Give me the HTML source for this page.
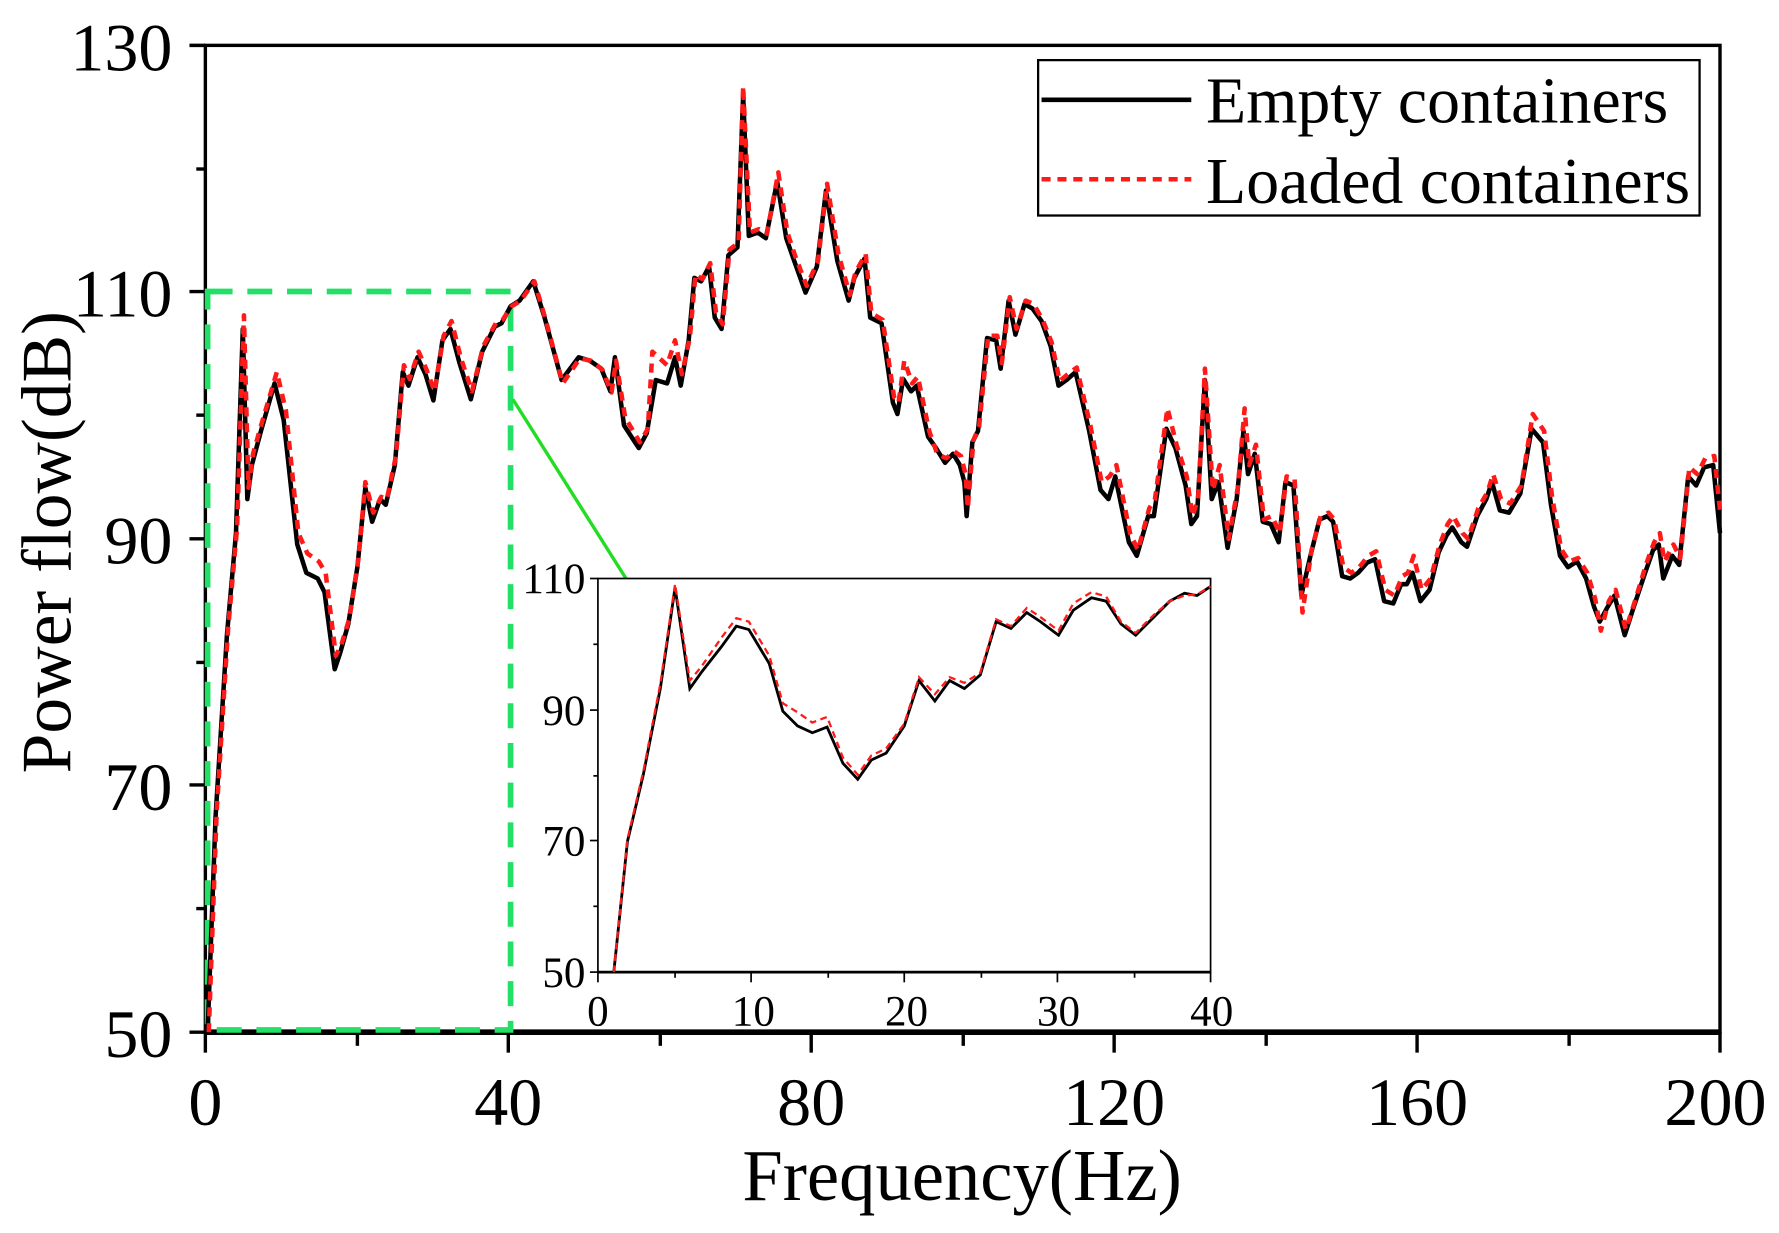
<!DOCTYPE html>
<html><head><meta charset="utf-8"><style>
html,body{margin:0;padding:0;background:#fff;}
svg{display:block;}
text{font-family:"Liberation Serif",serif;fill:#000;}
</style></head><body>
<svg width="1779" height="1233" viewBox="0 0 1568 1087" preserveAspectRatio="none" xmlns="http://www.w3.org/2000/svg">
<rect width="1568" height="1087" fill="#fff"/>
<rect x="181" y="40" width="1335" height="870" fill="none" stroke="#000" stroke-width="3"/>
<line x1="181" y1="910" x2="1516" y2="910" stroke="#000" stroke-width="5"/>
<g stroke="#000" stroke-width="3">
<line x1="167" y1="40" x2="181" y2="40"/><line x1="173" y1="149" x2="181" y2="149"/>
<line x1="167" y1="257" x2="181" y2="257"/><line x1="173" y1="366" x2="181" y2="366"/>
<line x1="167" y1="475" x2="181" y2="475"/><line x1="173" y1="584" x2="181" y2="584"/>
<line x1="167" y1="692" x2="181" y2="692"/><line x1="173" y1="801" x2="181" y2="801"/>
<line x1="167" y1="910" x2="181" y2="910"/>
<line x1="181" y1="910" x2="181" y2="928"/><line x1="315" y1="910" x2="315" y2="922"/>
<line x1="448" y1="910" x2="448" y2="928"/><line x1="582" y1="910" x2="582" y2="922"/>
<line x1="715" y1="910" x2="715" y2="928"/><line x1="849" y1="910" x2="849" y2="922"/>
<line x1="982" y1="910" x2="982" y2="928"/><line x1="1116" y1="910" x2="1116" y2="922"/>
<line x1="1249" y1="910" x2="1249" y2="928"/><line x1="1383" y1="910" x2="1383" y2="922"/>
<line x1="1516" y1="910" x2="1516" y2="928"/>
</g>
<g font-size="60" text-anchor="end">
<text x="152" y="62">130</text><text x="152" y="279">110</text><text x="152" y="497">90</text>
<text x="152" y="714">70</text><text x="152" y="932">50</text>
</g>
<g font-size="60" text-anchor="middle">
<text x="181" y="992">0</text><text x="448" y="992">40</text><text x="715" y="992">80</text>
<text x="982" y="992">120</text><text x="1249" y="992">160</text><text x="1512" y="992">200</text>
</g>
<text x="848" y="1058" font-size="64" text-anchor="middle">Frequency(Hz)</text>
<text transform="translate(62,478) rotate(-90)" font-size="63" text-anchor="middle">Power flow(dB)</text>

<rect x="183" y="257" width="267" height="651" fill="none" stroke="#22e066" stroke-width="5" stroke-dasharray="22,13"/>
<line x1="452" y1="352" x2="553" y2="512" stroke="#22dd22" stroke-width="3"/>

<polyline fill="none" stroke="#000" stroke-width="4" stroke-linejoin="round" points="183,910 190,720 200,560 208,470 214,290 218,440 222,410 230,380 242,338 250,370 262,480 270,505 280,510 286,522 295,590 300,575 307,550 315,500 322,430 328,460 335,440 340,445 348,410 355,328 360,340 368,315 375,330 382,353 390,300 397,290 405,320 415,352 425,310 436,288 442,285 450,270 458,265 470,248 480,280 495,335 510,315 520,318 530,325 538,345 542,315 550,375 563,395 570,382 578,335 588,338 595,315 600,340 607,300 612,245 618,248 625,235 630,280 636,290 642,225 650,218 655,84 660,208 668,205 675,210 685,160 693,210 700,230 710,258 720,235 728,168 738,230 748,265 753,245 762,228 767,280 777,285 787,355 791,365 796,334 803,345 808,340 818,385 825,395 833,408 840,400 846,410 850,425 852,455 857,390 862,380 870,298 878,300 882,325 889,265 895,295 903,268 910,272 918,283 926,305 933,340 940,335 948,328 960,380 970,432 977,440 983,420 995,478 1002,490 1012,455 1017,455 1028,378 1036,395 1045,428 1050,462 1055,455 1062,335 1068,440 1074,425 1082,483 1090,440 1096,380 1100,418 1106,400 1113,460 1120,462 1127,478 1133,425 1140,428 1147,525 1155,490 1163,458 1170,455 1175,460 1183,508 1190,510 1197,505 1205,496 1212,493 1220,530 1228,532 1235,515 1240,515 1245,505 1252,530 1260,520 1268,487 1275,472 1280,465 1288,478 1293,482 1302,455 1310,440 1315,425 1322,450 1330,452 1340,435 1350,378 1360,390 1367,445 1375,490 1382,500 1390,495 1398,510 1405,535 1410,548 1417,535 1423,525 1432,560 1440,535 1450,505 1457,485 1462,480 1466,510 1474,490 1480,498 1488,420 1495,428 1502,412 1510,410 1516,470"/>
<polyline fill="none" stroke="#ff1a1a" stroke-width="4" stroke-dasharray="8,6" stroke-linejoin="round" points="184,910 191,715 201,555 209,465 215,278 219,430 223,400 231,372 244,328 252,362 263,470 271,488 281,495 287,505 296,578 301,568 308,545 316,492 322,425 329,452 336,438 341,440 349,402 356,322 361,334 369,310 376,326 383,345 391,296 398,283 406,315 416,345 426,305 437,285 443,282 451,270 459,265 471,248 481,282 496,338 511,316 521,318 531,326 539,346 543,318 551,368 564,390 571,378 575,310 588,322 595,300 601,330 608,298 613,242 619,246 626,232 631,275 637,286 643,220 651,214 655,76 661,205 669,202 676,206 686,152 694,205 701,226 711,252 721,230 729,162 739,224 749,260 754,240 763,224 768,276 778,282 788,350 792,355 797,318 804,338 809,332 819,380 826,400 834,404 841,398 847,402 851,418 853,448 858,388 863,376 871,296 879,296 883,320 890,262 896,290 904,265 911,268 919,282 927,302 934,336 941,330 949,324 961,375 971,425 978,420 984,410 996,470 1003,485 1013,448 1018,440 1029,360 1037,392 1046,420 1051,455 1056,440 1062,325 1069,432 1075,410 1083,475 1091,430 1097,360 1101,410 1107,392 1114,458 1121,455 1128,470 1134,420 1141,422 1148,540 1156,485 1164,455 1171,452 1176,458 1184,500 1191,505 1198,500 1206,490 1213,486 1221,520 1229,525 1236,508 1241,505 1246,490 1253,520 1261,510 1269,480 1276,462 1281,455 1289,470 1294,475 1303,448 1311,434 1316,418 1323,440 1331,444 1341,428 1351,365 1361,380 1368,438 1376,484 1383,495 1391,492 1399,505 1406,528 1411,556 1418,530 1424,520 1433,555 1441,530 1451,497 1458,478 1463,470 1467,495 1475,480 1481,492 1489,412 1496,418 1503,404 1511,402 1516,450"/>

<rect x="915" y="53" width="583" height="137" fill="#fff" stroke="#000" stroke-width="2"/>
<line x1="918" y1="88" x2="1050" y2="88" stroke="#000" stroke-width="4"/>
<line x1="918" y1="158" x2="1050" y2="158" stroke="#ff1a1a" stroke-width="4" stroke-dasharray="8,6"/>
<text x="1063" y="108" font-size="58">Empty containers</text>
<text x="1063" y="179" font-size="58">Loaded containers</text>

<rect x="527" y="510" width="540" height="347" fill="#fff" stroke="#000" stroke-width="1.5"/>
<line x1="527" y1="857" x2="1067" y2="857" stroke="#000" stroke-width="2.5"/>
<g stroke="#000" stroke-width="1.5">
<line x1="520" y1="510" x2="527" y2="510"/><line x1="523" y1="568" x2="527" y2="568"/>
<line x1="520" y1="626" x2="527" y2="626"/><line x1="523" y1="684" x2="527" y2="684"/>
<line x1="520" y1="741" x2="527" y2="741"/><line x1="523" y1="799" x2="527" y2="799"/>
<line x1="520" y1="857" x2="527" y2="857"/>
<line x1="527" y1="857" x2="527" y2="866"/><line x1="595" y1="857" x2="595" y2="862"/>
<line x1="662" y1="857" x2="662" y2="866"/><line x1="730" y1="857" x2="730" y2="862"/>
<line x1="797" y1="857" x2="797" y2="866"/><line x1="865" y1="857" x2="865" y2="862"/>
<line x1="932" y1="857" x2="932" y2="866"/><line x1="1000" y1="857" x2="1000" y2="862"/>
<line x1="1067" y1="857" x2="1067" y2="866"/>
</g>
<g font-size="38" text-anchor="end">
<text x="516" y="523">110</text><text x="516" y="639">90</text><text x="516" y="754">70</text><text x="516" y="870">50</text>
</g>
<g font-size="38" text-anchor="middle">
<text x="527" y="904">0</text><text x="664" y="904">10</text><text x="799" y="904">20</text>
<text x="933" y="904">30</text><text x="1068" y="904">40</text>
</g>
<polyline fill="none" stroke="#000" stroke-width="2.5" points="541,857 553,742 567,683 582,607 595,518 608,607 618,593 636,570 649,552 660,555 678,585 690,627 703,640 716,646 729,641 743,673 756,687 768,670 781,664 797,640 810,600 824,618 837,600 850,607 864,595 878,548 891,554 905,540 917,548 933,560 946,538 962,527 975,530 988,550 1001,560 1016,545 1031,530 1044,523 1055,525 1067,517"/>
<polyline fill="none" stroke="#ff1a1a" stroke-width="2" stroke-dasharray="6,4" points="541,857 553,740 567,680 582,603 595,515 608,600 618,588 636,562 649,545 660,548 678,578 690,620 703,628 716,637 729,632 743,668 756,683 768,666 781,660 797,638 810,597 824,612 837,597 850,602 864,593 878,546 891,552 905,536 917,544 933,556 946,532 962,522 975,526 988,548 1001,558 1016,543 1031,530 1044,525 1055,524 1067,517"/>
</svg>
</body></html>
